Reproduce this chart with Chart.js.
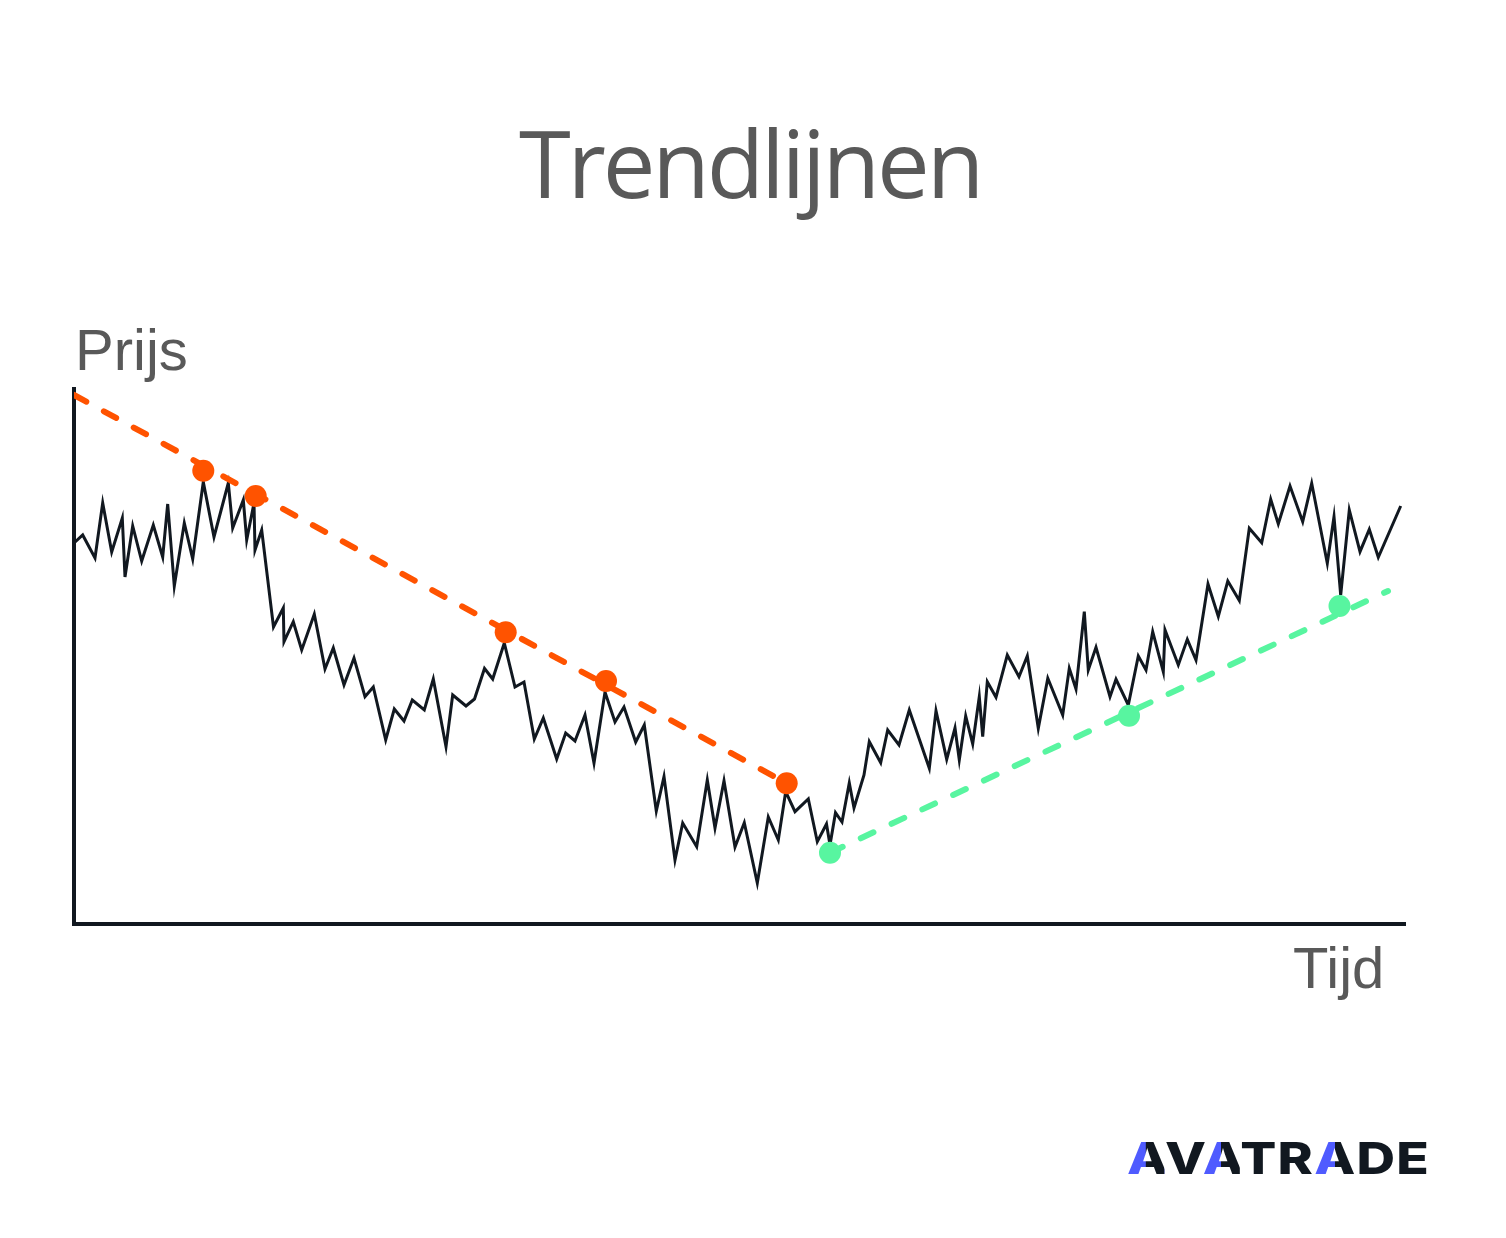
<!DOCTYPE html>
<html>
<head>
<meta charset="utf-8">
<script src="https://cdn.jsdelivr.net/npm/chart.js@4/dist/chart.umd.min.js"></script>
<style>
  html, body { margin: 0; padding: 0; background: #ffffff; }
  body { width: 1506px; height: 1238px; position: relative; overflow: hidden; }
  #c { position: absolute; left: 0; top: 0; }
  .txt { position: absolute; white-space: nowrap; line-height: 1; color: #595959; }
  #title { font-family: "Open Sans", sans-serif; font-size: 94px; letter-spacing: -3.2px; top: 115px; left: 0; width: 1500px; text-align: center; }
  #ylab { font-family: "Liberation Sans", Arial, sans-serif; font-size: 58px; left: 75px; top: 321px; }
  #xlab { font-family: "Liberation Sans", Arial, sans-serif; font-size: 58px; left: 1293px; top: 939px; }
  #logo { font-family: Inter, sans-serif; font-weight: 800; font-size: 44px; left: 1127px; top: 1136px; color: #111820;
          display: inline-block; transform-origin: 0 0; letter-spacing: 1px; }
  #logo .a { background: linear-gradient(90deg, #4F5BFF 0%, #4F5BFF 50%, #111820 50%, #111820 100%);
             -webkit-background-clip: text; background-clip: text; color: transparent; }
</style>
</head>
<body>
<canvas id="c" width="1506" height="1238"></canvas>
<div class="txt" id="title">Trendlijnen</div>
<div class="txt" id="ylab">Prijs</div>
<div class="txt" id="xlab">Tijd</div>
<div class="txt" id="logo"><span class="a">A</span>V<span class="a">A</span>TR<span class="a">A</span>DE</div>
<script>
// ---- data (time index, price level) ----
const time = [0, 8.7, 21, 28.7, 37.7, 48.3, 51, 58.7, 67.7, 79.3, 88.7, 93.7, 100.3, 110.3, 118.7, 129.3, 140, 154.3, 158.7, 169.3,
  172.7, 180, 181, 187.7, 199.5, 209.3, 210, 219.3, 227.7, 240.3, 251, 259.3, 270, 280, 291, 299.3, 311.7, 320.3, 330, 338.3,
  350.3, 359.3, 372, 378.7, 392, 400.5, 410.5, 418.7, 430.3, 441, 450, 460.3, 469.3, 482.7, 491.7, 501, 511, 520, 531, 541,
  550, 561.7, 570.3, 582.3, 590, 601, 608.7, 622.7, 633.3, 641, 650, 661, 670.3, 683.3, 694.3, 704.3, 711.7, 721, 734.3, 743.3,
  752.5, 756, 761.5, 768, 775.3, 780, 790, 795.3, 806.7, 813.7, 825, 835.3, 855.3, 862, 872.7, 881, 885.3, 891.7, 898.7, 905.3,
  908.7, 913.3, 922, 933.3, 945, 953.3, 964.3, 973.8, 988.7, 995.3, 1002, 1010.3, 1014.3, 1022, 1036, 1042, 1054.3, 1064.3, 1072, 1078.7,
  1089.3, 1091, 1104.3, 1113.3, 1122, 1134, 1144.3, 1153.8, 1165.3, 1175.3, 1187.7, 1196.7, 1204.3, 1216, 1228.7, 1237.7, 1253.3, 1260, 1266.7, 1275.3,
  1286, 1295.3, 1304.3, 1326.7];
const price = [381, 389, 366, 421, 372, 406, 347, 398, 363, 399, 367, 420, 338, 401, 365, 442, 387, 441, 396, 424,
  384, 421, 374, 394, 297, 316, 282.3, 302.3, 274, 309.7, 255, 276, 239, 266, 227.3, 237, 184, 215, 203, 224,
  214, 245, 177.3, 229, 218, 225, 255.5, 245, 281, 237, 242, 185, 206, 165, 191, 183, 209, 161, 232, 202,
  217, 182, 199, 113, 147.5, 64, 101, 77.3, 144, 96, 143.3, 77, 101.3, 41, 107, 84, 132.3, 112.3, 125, 82.3,
  100, 79, 111.3, 102, 141, 116, 149, 182.3, 161.3, 194, 179, 214, 155.7, 213.3, 164.7, 196, 164, 208, 180, 227.3,
  187.3, 242.3, 226.7, 269, 247.3, 268, 195.7, 245.7, 209, 255.7, 235, 312.3, 254, 276.7, 227.3, 244.7, 219, 268, 254, 292.3,
  252.3, 294, 259, 284.7, 264, 340, 307.5, 343, 323.5, 395.7, 381.3, 424.7, 400, 438, 402.3, 440.7, 360.7, 407.3, 329, 414,
  372.3, 394.7, 366.7, 418];

// descending trendline (resistance) and its touch points
const resistTime = [0, 712.7];
const resistPrice = [529, 140.7];
const resistTouchTime = [129.3, 181.7, 431.7, 532, 712.7];
const resistTouchPrice = [453.3, 428, 291.7, 243, 140.7];

// ascending trendline (support) and its touch points
const supportTime = [756, 1314];
const supportPrice = [71.3, 333];
const supportTouchTime = [756, 1055, 1265.5];
const supportTouchPrice = [71.3, 208.3, 318];

const axisMax = { time: 1331, price: 535 };

// ---- styles ----
const ORANGE = '#FF5300';
const GREEN = '#58F5A0';
const DARK = '#111820';

const pts = (xs, ys) => xs.map((x, i) => ({ x: x, y: ys[i] }));

new Chart(document.getElementById('c'), {
  type: 'line',
  data: {
    datasets: [
      { label: 'resistance touches', data: pts(resistTouchTime, resistTouchPrice), showLine: false,
        pointRadius: 11, pointBackgroundColor: ORANGE, pointBorderWidth: 0, order: 0 },
      { label: 'support touches', data: pts(supportTouchTime, supportTouchPrice), showLine: false,
        pointRadius: 11, pointBackgroundColor: GREEN, pointBorderWidth: 0, order: 0 },
      { label: 'resistance', data: pts(resistTime, resistPrice), borderColor: ORANGE, borderWidth: 6,
        borderDash: [14, 20], borderCapStyle: 'round', pointRadius: 0, order: 1 },
      { label: 'support', data: pts(supportTime, supportPrice), borderColor: GREEN, borderWidth: 6,
        borderDash: [14, 20], borderCapStyle: 'round', pointRadius: 0, order: 1 },
      { label: 'Prijs', data: pts(time, price), borderColor: DARK, borderWidth: 3, pointRadius: 0,
        tension: 0, borderJoinStyle: 'miter', order: 2 }
    ]
  },
  options: {
    responsive: false,
    animation: false,
    devicePixelRatio: 1,
    layout: { padding: { left: 74, right: 101, top: 389, bottom: 314 } },
    plugins: { legend: { display: false }, tooltip: { enabled: false }, title: { display: false } },
    scales: {
      x: { type: 'linear', min: 0, max: axisMax.time,
           ticks: { display: false }, grid: { display: false, drawTicks: false },
           border: { display: true, color: DARK, width: 4 } },
      y: { type: 'linear', min: 0, max: axisMax.price,
           ticks: { display: false }, grid: { display: false, drawTicks: false },
           border: { display: true, color: DARK, width: 4 } }
    }
  }
});

// stretch the logo word horizontally to the reference width
(function () {
  const logo = document.getElementById('logo');
  const w = logo.getBoundingClientRect().width;
  const target = 303;
  logo.style.transform = 'scaleX(' + (target / w) + ')';
})();
</script>
</body>
</html>
